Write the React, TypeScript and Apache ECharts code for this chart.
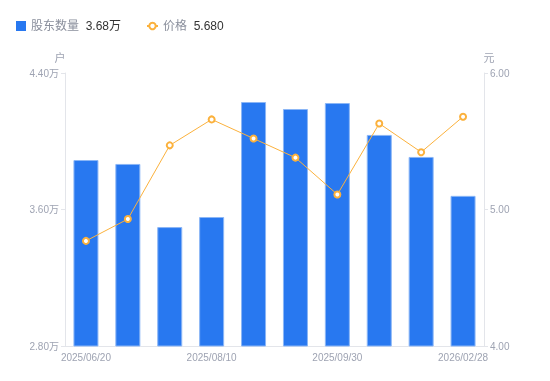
import React, { useEffect, useRef } from "react";
import * as echarts from "echarts";

const categories = [
  "2025/06/20", "2025/06/30", "2025/07/20", "2025/08/10", "2025/08/20",
  "2025/09/10", "2025/09/30", "2025/10/31", "2025/12/31", "2026/02/28",
];
const holders = [38900, 38670, 34970, 35560, 42300, 41890, 42240, 40370, 39080, 36800];
const prices = [4.77, 4.93, 5.47, 5.66, 5.52, 5.38, 5.11, 5.63, 5.42, 5.68];
const legendValues: Record<string, string> = { "股东数量": "3.68万", "价格": "5.680" };

export default function App() {
  const ref = useRef<HTMLDivElement>(null);
  useEffect(() => {
    const chart = echarts.init(ref.current!, undefined, { renderer: "svg" });
    const labelColor = "#9ea3b2";
    const axisLineColor = "#e3e5ea";
    const legendText = {
      rich: {
        n: { color: "#8a8f9c", fontSize: 12 },
        v: { color: "#333", fontSize: 12 },
      },
    };
    const fmt = (name: string) => `{n|${name}}  {v|${legendValues[name]}}`;
    chart.setOption({
      animation: false,
      textStyle: { fontFamily: "Liberation Sans, Arial, Noto Sans CJK SC, sans-serif" },
      legend: [
        {
          left: 11,
          top: 15,
          itemWidth: 10,
          itemHeight: 10,
          data: [{ name: "股东数量", icon: "rect", itemStyle: { borderWidth: 0 } }],
          formatter: fmt,
          textStyle: legendText,
        },
        {
          left: 141,
          top: 15,
          itemWidth: 11,
          itemHeight: 8,
          data: [{ name: "价格" }],
          itemStyle: { borderWidth: 1.5 },
          formatter: fmt,
          textStyle: legendText,
        },
      ],
      grid: { left: 65, right: 66, top: 73, bottom: 35 },
      xAxis: {
        type: "category",
        data: categories,
        axisLine: { lineStyle: { color: axisLineColor } },
        axisTick: { show: false },
        axisLabel: { color: labelColor, fontSize: 10, interval: 2, margin: 6 },
      },
      yAxis: [
        {
          type: "value",
          name: "户",
          nameTextStyle: { color: labelColor, fontSize: 11, padding: [0, 10, 0, 0] },
          nameGap: 10,
          min: 28000,
          max: 44000,
          interval: 8000,
          axisLine: { show: true, lineStyle: { color: axisLineColor } },
          axisTick: { show: true, length: 4, lineStyle: { color: axisLineColor } },
          splitLine: { show: false },
          axisLabel: {
            color: labelColor,
            fontSize: 10,
            margin: 6,
            formatter: (v: number) => (v / 10000).toFixed(2) + "万",
          },
        },
        {
          type: "value",
          name: "元",
          nameTextStyle: { color: labelColor, fontSize: 11, padding: [0, 0, 0, 10] },
          nameGap: 10,
          min: 4,
          max: 6,
          interval: 1,
          axisLine: { show: true, lineStyle: { color: axisLineColor } },
          axisTick: { show: true, length: 4, lineStyle: { color: axisLineColor } },
          splitLine: { show: false },
          axisLabel: {
            color: labelColor,
            fontSize: 10,
            margin: 6,
            formatter: (v: number) => v.toFixed(2),
          },
        },
      ],
      series: [
        {
          name: "股东数量",
          type: "bar",
          data: holders,
          barWidth: 25,
          itemStyle: { color: "#2878f0", borderColor: "#8bb6f6", borderWidth: 1 },
        },
        {
          name: "价格",
          type: "line",
          yAxisIndex: 1,
          data: prices,
          symbol: "emptyCircle",
          symbolSize: 6,
          lineStyle: { color: "#fbb13c", width: 1 },
          itemStyle: { color: "#fbb13c", borderWidth: 2 },
        },
      ],
    });
    return () => chart.dispose();
  }, []);
  return (
    <div
      ref={ref}
      style={{ position: "fixed", left: 0, top: 0, width: 550, height: 381 }}
    />
  );
}
